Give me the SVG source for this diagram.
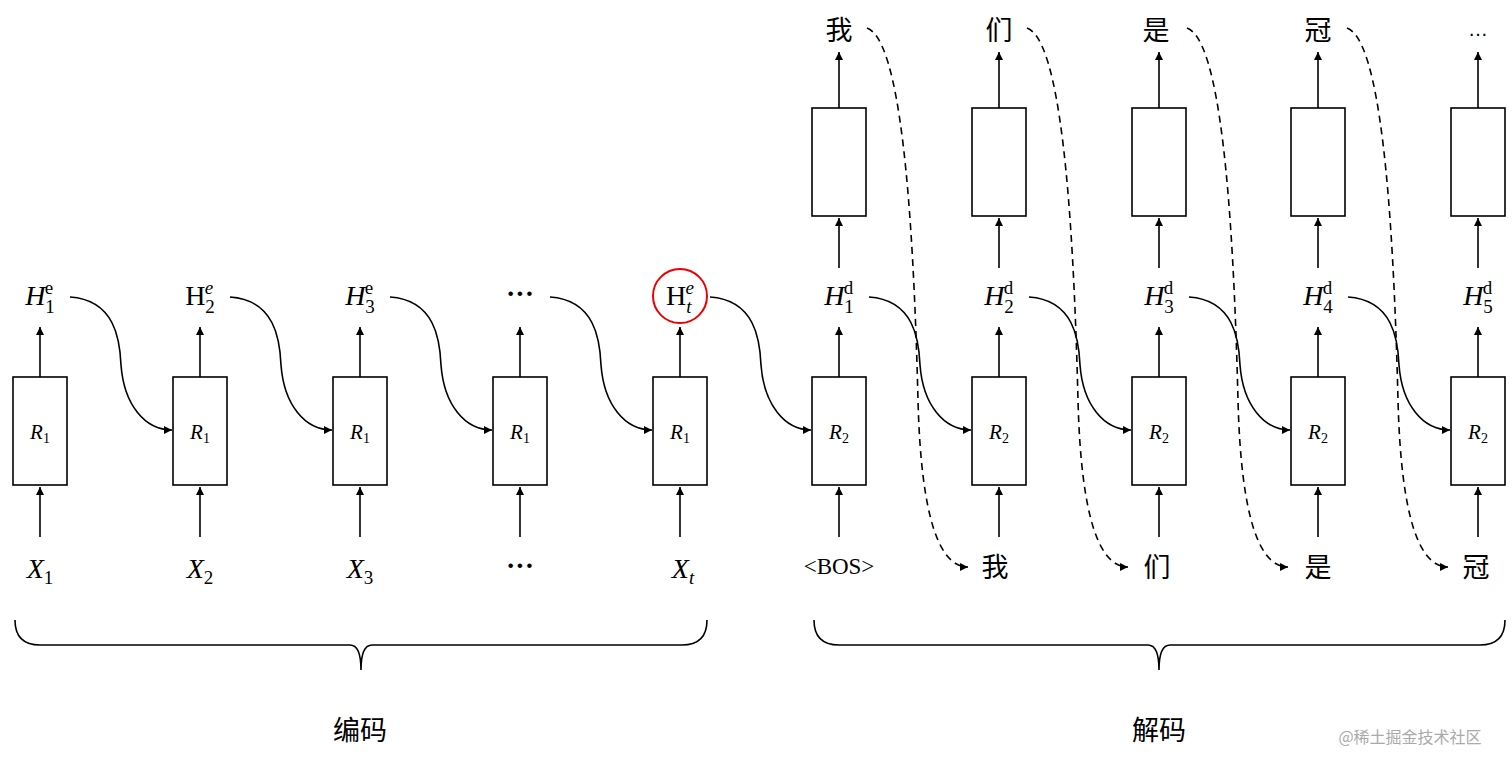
<svg xmlns="http://www.w3.org/2000/svg" width="1512" height="768" viewBox="0 0 1512 768">
<style>
.b{fill:#fff;stroke:#000;stroke-width:1.6}
.a{stroke:#000;stroke-width:1.6;fill:none;marker-end:url(#ar)}
.d{stroke:#000;stroke-width:1.6;fill:none;stroke-dasharray:7 5;marker-end:url(#ar)}
.m{font-family:"Liberation Serif",serif;font-style:italic;font-size:28px;text-anchor:middle}
.s{font-size:19px}
.u{font-style:normal}
.c{font-family:"Noto Sans CJK SC",sans-serif;font-size:27px;text-anchor:middle}
.r{font-family:"Liberation Serif",serif;font-style:italic;font-size:21px;text-anchor:middle}
.r tspan{font-style:normal;font-size:14px}
</style>
<defs><marker id="ar" markerWidth="10" markerHeight="10" refX="8" refY="4" orient="auto" markerUnits="userSpaceOnUse"><path d="M0,0 L8,4 L0,8 z"/></marker></defs>
<g id="connectors">
<path class="a" d="M40,537V487"/><path class="a" d="M200,537V487"/><path class="a" d="M360,537V487"/><path class="a" d="M520,537V487"/><path class="a" d="M680,537V487"/><path class="a" d="M839,537V487"/><path class="a" d="M999,537V487"/><path class="a" d="M1159,537V487"/><path class="a" d="M1318,537V487"/><path class="a" d="M1478,537V487"/>
<path class="a" d="M40,377V327"/><path class="a" d="M200,377V327"/><path class="a" d="M360,377V327"/><path class="a" d="M520,377V327"/><path class="a" d="M680,377V327"/><path class="a" d="M839,377V327"/><path class="a" d="M999,377V327"/><path class="a" d="M1159,377V327"/><path class="a" d="M1318,377V327"/><path class="a" d="M1478,377V327"/>
<path class="a" d="M839,268V218"/><path class="a" d="M999,268V218"/><path class="a" d="M1159,268V218"/><path class="a" d="M1318,268V218"/><path class="a" d="M1478,268V218"/>
<path class="a" d="M839,108V52"/><path class="a" d="M999,108V52"/><path class="a" d="M1159,108V52"/><path class="a" d="M1318,108V52"/><path class="a" d="M1478,108V52"/>
<g id="h-curves">
<path class="a" d="M70,297 C115,300 120,340 121,365 C124,405 145,430 172,430"/>
<path class="a" d="M230,297 C275,300 280,340 281,365 C284,405 305,430 332,430"/>
<path class="a" d="M390,297 C435,300 440,340 441,365 C444,405 465,430 492,430"/>
<path class="a" d="M550,297 C595,300 600,340 601,365 C604,405 625,430 652,430"/>
<path class="a" d="M710,297 C755,300 760,340 761,365 C764,405 785,430 811,430"/>
<path class="a" d="M869,297 C914,300 919,340 920,365 C923,405 944,430 971,430"/>
<path class="a" d="M1029,297 C1074,300 1079,340 1080,365 C1083,405 1104,430 1131,430"/>
<path class="a" d="M1189,297 C1234,300 1239,340 1240,365 C1243,405 1264,430 1290,430"/>
<path class="a" d="M1348,297 C1393,300 1398,340 1399,365 C1402,405 1423,430 1450,430"/>
</g>
<g id="dashed">
<path class="d" d="M867,28 C900,40 913,200 918,400 C921,520 940,567 968,567"/>
<path class="d" d="M1027,28 C1060,40 1073,200 1078,400 C1081,520 1100,567 1128,567"/>
<path class="d" d="M1187,28 C1220,40 1233,200 1238,400 C1241,520 1260,567 1288,567"/>
<path class="d" d="M1347,28 C1380,40 1393,200 1398,400 C1401,520 1420,567 1448,567"/>
</g>
<g id="braces" stroke="#000" stroke-width="1.6" fill="none">
<path d="M15,620 Q15,645 40,645 H350 Q361,645 361,670 Q361,645 372,645 H682 Q707,645 707,620"/>
<path d="M814,620 Q814,645 839,645 H1148 Q1159,645 1159,670 Q1159,645 1170,645 H1480 Q1505,645 1505,620"/>
</g>
</g>
<g id="enc1"><rect class="b" x="13" y="377" width="54" height="108"/><text class="r" x="40" y="439">R<tspan dy="4">1</tspan></text></g>
<g id="enc2"><rect class="b" x="173" y="377" width="54" height="108"/><text class="r" x="200" y="439">R<tspan dy="4">1</tspan></text></g>
<g id="enc3"><rect class="b" x="333" y="377" width="54" height="108"/><text class="r" x="360" y="439">R<tspan dy="4">1</tspan></text></g>
<g id="enc4"><rect class="b" x="493" y="377" width="54" height="108"/><text class="r" x="520" y="439">R<tspan dy="4">1</tspan></text></g>
<g id="enc5"><rect class="b" x="653" y="377" width="54" height="108"/><text class="r" x="680" y="439">R<tspan dy="4">1</tspan></text></g>
<g id="dec1"><rect class="b" x="812" y="377" width="54" height="108"/><text class="r" x="839" y="439">R<tspan dy="4">2</tspan></text></g>
<g id="dec2"><rect class="b" x="972" y="377" width="54" height="108"/><text class="r" x="999" y="439">R<tspan dy="4">2</tspan></text></g>
<g id="dec3"><rect class="b" x="1132" y="377" width="54" height="108"/><text class="r" x="1159" y="439">R<tspan dy="4">2</tspan></text></g>
<g id="dec4"><rect class="b" x="1291" y="377" width="54" height="108"/><text class="r" x="1318" y="439">R<tspan dy="4">2</tspan></text></g>
<g id="dec5"><rect class="b" x="1451" y="377" width="54" height="108"/><text class="r" x="1478" y="439">R<tspan dy="4">2</tspan></text></g>
<g id="out1"><rect class="b" x="812" y="108" width="54" height="108"/></g>
<g id="out2"><rect class="b" x="972" y="108" width="54" height="108"/></g>
<g id="out3"><rect class="b" x="1132" y="108" width="54" height="108"/></g>
<g id="out4"><rect class="b" x="1291" y="108" width="54" height="108"/></g>
<g id="out5"><rect class="b" x="1451" y="108" width="54" height="108"/></g>
<g id="x-labels">
<text class="m" x="40" y="578">X<tspan class="s u" dy="6">1</tspan></text>
<text class="m" x="200" y="578">X<tspan class="s u" dy="6">2</tspan></text>
<text class="m" x="360" y="578">X<tspan class="s u" dy="6">3</tspan></text>
<text class="m u" x="520" y="575" font-weight="bold">···</text>
<text class="m" x="683" y="578">X<tspan class="s" dy="6">t</tspan></text>
<text x="839" y="574" font-family="Liberation Serif,serif" font-size="23" text-anchor="middle">&lt;BOS&gt;</text>
<text class="c" x="995" y="577">我</text><text class="c" x="1157" y="577">们</text><text class="c" x="1318" y="577">是</text><text class="c" x="1476" y="577">冠</text>
</g>
<g id="h-labels">
<text class="m" x="40" y="305">H<tspan class="s u" dy="8">1</tspan><tspan class="s u" dx="-10" dy="-19">e</tspan></text>
<text class="m" x="200" y="305"><tspan class="u">H</tspan><tspan class="s u" dy="8">2</tspan><tspan class="s" dx="-10" dy="-19">e</tspan></text>
<text class="m" x="360" y="305">H<tspan class="s u" dy="8">3</tspan><tspan class="s u" dx="-10" dy="-19">e</tspan></text>
<text class="m u" x="520" y="303" font-weight="bold">···</text>
<text class="m" x="680" y="305"><tspan class="u">H</tspan><tspan class="s" dy="8">t</tspan><tspan class="s" dx="-6" dy="-19">e</tspan></text>
<circle cx="680" cy="296" r="27" fill="none" stroke="#e00" stroke-width="2"/>
<text class="m" x="839" y="305">H<tspan class="s u" dy="8">1</tspan><tspan class="s u" dx="-10" dy="-19">d</tspan></text>
<text class="m" x="999" y="305">H<tspan class="s u" dy="8">2</tspan><tspan class="s u" dx="-10" dy="-19">d</tspan></text>
<text class="m" x="1159" y="305">H<tspan class="s u" dy="8">3</tspan><tspan class="s u" dx="-10" dy="-19">d</tspan></text>
<text class="m" x="1318" y="305">H<tspan class="s u" dy="8">4</tspan><tspan class="s u" dx="-10" dy="-19">d</tspan></text>
<text class="m" x="1478" y="305">H<tspan class="s u" dy="8">5</tspan><tspan class="s u" dx="-10" dy="-19">d</tspan></text>
</g>
<g id="top-labels">
<text class="c" x="839" y="40">我</text><text class="c" x="999" y="40">们</text><text class="c" x="1156" y="40">是</text><text class="c" x="1318" y="40">冠</text>
<text x="1478" y="36" font-family="Liberation Sans,sans-serif" font-size="20" text-anchor="middle">…</text>
</g>
<text class="c" x="360" y="740" font-size="33">编码</text>
<text class="c" x="1159" y="740" font-size="33">解码</text>
<text x="1410" y="743" font-family="Noto Sans CJK SC,sans-serif" font-size="16" fill="#aaa" text-anchor="middle">@稀土掘金技术社区</text>
</svg>
